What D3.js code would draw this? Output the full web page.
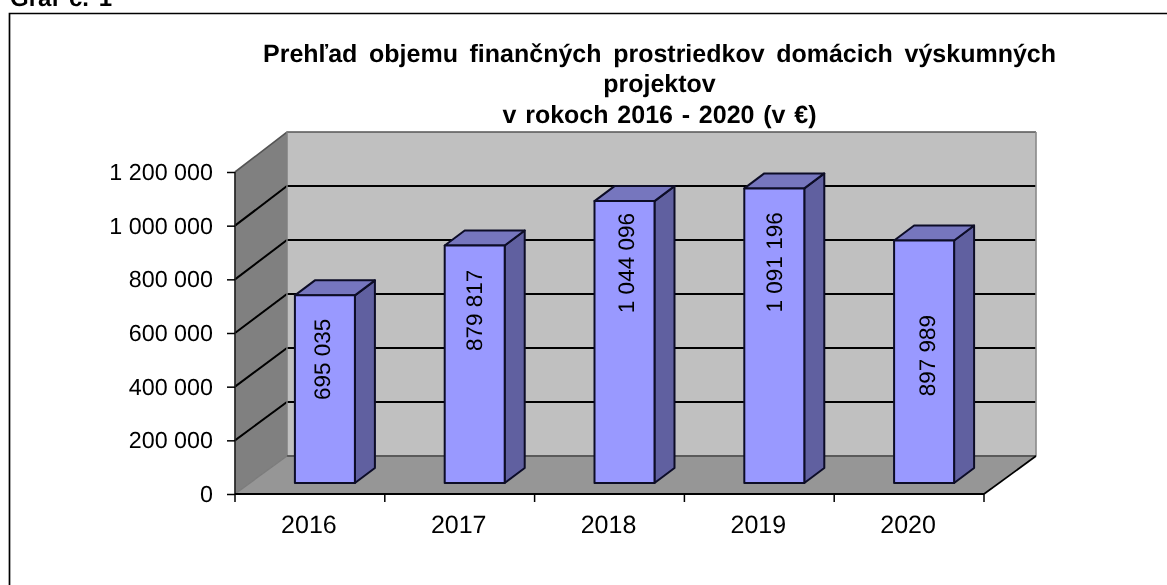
<!DOCTYPE html>
<html><head><meta charset="utf-8">
<script src="https://cdn.jsdelivr.net/npm/d3@7"></script>
<style>html,body{margin:0;padding:0;background:#fff;overflow:hidden}svg{display:block}text{font-family:"Liberation Sans",Arial,sans-serif;fill:#000;text-rendering:geometricPrecision}</style>
</head><body><div id="chart"></div>
<script>
const years = ["2016","2017","2018","2019","2020"];
const amounts = [695035, 879817, 1044096, 1091196, 897989];
const yTicks = [0,200000,400000,600000,800000,1000000,1200000];
const titleLines = ["Prehľad objemu finančných prostriedkov domácich výskumných","projektov","v rokoch 2016 - 2020 (v €)"];
const caption = "Graf č. 1";

const W=1167,H=585;
const svg=d3.select("#chart").append("svg").attr("width",W).attr("height",H);
const defs=svg.append("defs");
defs.append("filter").attr("id","soft").attr("x","-2%").attr("y","-2%").attr("width","104%").attr("height","104%")
  .append("feGaussianBlur").attr("stdDeviation",0.55);
const root=svg.append("g").attr("filter","url(#soft)");
root.append("rect").attr("width",W).attr("height",H).attr("fill","#fff");

const fmt=d3.formatLocale({decimal:",",thousands:" ",grouping:[3],currency:["","€"]}).format(",d");
const depth={x:52,y:-38};
const x=d3.scaleBand().domain(years).range([235,984]);
const yFront=d3.scaleLinear().domain([0,1200000]).range([494,172]);
const yBack=d3.scaleLinear().domain([0,1200000]).range([456,132]);
const pts=a=>a.map(p=>p.join(",")).join(" ");
const [x0,x1]=x.range();
const bx0=x0+depth.x,bx1=x1+depth.x;

// frame and caption
root.append("path").attr("d",`M9.5,${H+2}V13.5H${W+2}`).attr("fill","none").attr("stroke","#000").attr("stroke-width",1.7);
root.append("text").attr("x",10).attr("y",5.5).attr("font-size",24).attr("font-weight","bold").attr("word-spacing",3).text(caption);

// title
const titleY=[62,92,123];
const titleWidths=[793,null,314];
const title=root.append("g").attr("font-weight","bold").attr("font-size",25);
title.selectAll("text").data(titleLines).join("text")
  .attr("x",659.5).attr("y",(d,i)=>titleY[i]).attr("text-anchor","middle").text(d=>d)
  .each(function(d,i){ if(titleWidths[i]){ const n=d.split(" ").length-1; const w=this.getComputedTextLength(); d3.select(this).attr("word-spacing",(titleWidths[i]-w)/n);} });

// walls
const hi=yBack(1200000), lo=yBack(0), fl=yFront(0), ft=yFront(1200000);
root.append("polygon").attr("points",pts([[bx0,lo],[bx1,lo],[bx1,hi],[bx0,hi]])).attr("fill","#c0c0c0");
root.append("polygon").attr("points",pts([[x0,fl],[bx0,lo],[bx0,hi],[x0,ft]])).attr("fill","#808080");
root.append("polygon").attr("points",pts([[x0,fl],[x1,fl],[bx1,lo],[bx0,lo]])).attr("fill","#969696");

// gridlines
const gl=yTicks.filter(d=>d>0&&d<1200000);
root.selectAll(".grid").data(gl).join("polyline").attr("fill","none").attr("stroke","#000").attr("stroke-width",2)
  .attr("points",d=>pts([[x0,yFront(d)],[bx0,yBack(d)],[bx1,yBack(d)]]));
root.append("polyline").attr("fill","none").attr("stroke","#555").attr("stroke-width",1.6)
  .attr("points",pts([[x0,ft],[bx0,hi],[bx1,hi]]));
root.append("line").attr("x1",bx1).attr("x2",bx1).attr("y1",hi).attr("y2",lo).attr("stroke","#8a8a8a").attr("stroke-width",1.6);
root.append("line").attr("x1",bx0).attr("x2",bx0).attr("y1",hi).attr("y2",lo).attr("stroke","#808080").attr("stroke-width",1.5);
root.append("line").attr("x1",bx0).attr("x2",bx1).attr("y1",lo).attr("y2",lo).attr("stroke","#5a5a5a").attr("stroke-width",1.8);
root.append("line").attr("x1",x0).attr("x2",bx0).attr("y1",fl).attr("y2",lo).attr("stroke","#7a7a7a").attr("stroke-width",1.2);
root.append("line").attr("x1",x1).attr("x2",bx1).attr("y1",fl).attr("y2",lo).attr("stroke","#000").attr("stroke-width",1.7);

// bars
const barW=60, offs={x:15,y:27}, side={x:20,y:-15};
const labelDrop=[64,65,62,74,115];
const labelShift=[5.5,7.5,9.5,7.5,10.5];
const bars=root.selectAll(".bar").data(years.map((c,i)=>({c,v:amounts[i],i}))).join("g");
const fx=d=>x(d.c)+x.bandwidth()/2+offs.x-barW/2;
const base=yBack(0)+offs.y;
const fy=d=>yBack(d.v)+offs.y;
const edge={stroke:"#0c0c28","stroke-width":2,"stroke-linejoin":"round"};
function poly(sel,fill,f){const p=sel.append("polygon").attr("fill",fill).attr("points",f);Object.entries(edge).forEach(([k,v])=>p.attr(k,v));}
poly(bars,"#6060a0",d=>pts([[fx(d)+barW,base],[fx(d)+barW+side.x,base+side.y],[fx(d)+barW+side.x,fy(d)+side.y],[fx(d)+barW,fy(d)]]));
poly(bars,"#7676be",d=>pts([[fx(d),fy(d)],[fx(d)+side.x,fy(d)+side.y],[fx(d)+barW+side.x,fy(d)+side.y],[fx(d)+barW,fy(d)]]));
poly(bars,"#9999ff",d=>pts([[fx(d),base],[fx(d)+barW,base],[fx(d)+barW,fy(d)],[fx(d),fy(d)]]));
bars.append("text").attr("font-size",22.5).attr("text-anchor","middle")
  .attr("transform",d=>`translate(${fx(d)+barW/2+labelShift[d.i]},${fy(d)+labelDrop[d.i]}) rotate(-90)`)
  .text(d=>fmt(d.v));

// axes
const axL=root.append("g").attr("transform",`translate(${x0},0)`).call(d3.axisLeft(yFront).tickValues(yTicks).tickFormat(fmt).tickSize(8).tickPadding(14));
const axB=root.append("g").attr("transform",`translate(-1,${fl})`).call(d3.axisBottom(x).tickSize(0).tickPadding(21));
root.selectAll(".xt").data(d3.range(years.length+1)).join("line")
  .attr("x1",i=>x0+i*x.step()).attr("x2",i=>x0+i*x.step()).attr("y1",fl).attr("y2",fl+8).attr("stroke","#000").attr("stroke-width",1.5);
[axL,axB].forEach(a=>{a.attr("font-family",null);a.selectAll("text").attr("font-size",23.3).style("fill","#000");});
axB.selectAll("text").attr("font-size",25);
axL.select(".domain").attr("stroke","#222").attr("stroke-width",1.7).attr("d",`M0,${ft}V${fl}`);
axB.select(".domain").attr("stroke","#000").attr("stroke-width",1.8).attr("d",`M${x0+1},0H${x1+1}`);
axL.selectAll(".tick line").attr("stroke-width",1.5);
</script></body></html>
